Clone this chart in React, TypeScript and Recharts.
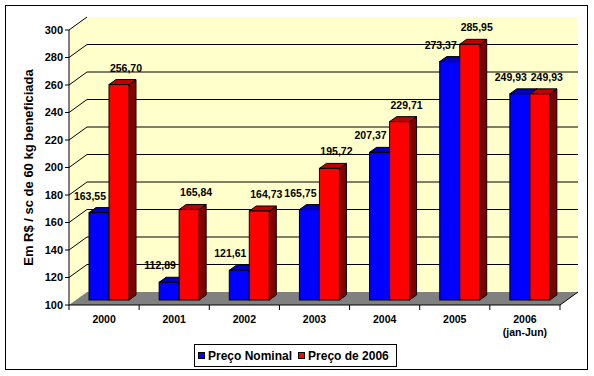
import React from 'react';
import { BarChart, Bar, XAxis, YAxis, CartesianGrid, LabelList, Legend } from 'recharts';

const categories = ['2000', '2001', '2002', '2003', '2004', '2005', '2006\n(jan-Jun)'];
const precoNominal = [163.55, 112.89, 121.61, 165.75, 207.37, 273.37, 249.93];
const preco2006 = [256.7, 165.84, 164.73, 195.72, 229.71, 285.95, 249.93];
const yTicks = [100, 120, 140, 160, 180, 200, 220, 240, 260, 280, 300];
const seriesNames = ['Preço Nominal', 'Preço de 2006'];
const yLabel = 'Em R$ / sc de 60 kg beneficiada';

const data = categories.map((c, i) => ({ cat: c, nominal: precoNominal[i], real: preco2006[i] }));

const W = 594;
const H = 376;
const MARGIN = { top: 30, right: 34, bottom: 41, left: 9 };
const Y_AXIS_W = 60;
const X_AXIS_H = 30;
const PLOT_LEFT = MARGIN.left + Y_AXIS_W;
const PLOT_TOP = MARGIN.top;
const PLOT_RIGHT = W - MARGIN.right;
const PLOT_BOTTOM = H - MARGIN.bottom - X_AXIS_H;
const DX = 18; // wall depth
const DY = 13;
const OX = 5; // bar plane offset
const OY = -5;
const BDX = 7; // bar depth
const BDY = -5;
const FONT = "'Liberation Sans', Arial, sans-serif";

const fmt = (v: number) => v.toFixed(2).replace('.', ',');

function Bar3D(props: any) {
  const { x, y, width, height, fill, topFill, sideFill } = props;
  if (width == null || height == null) return null;
  const fx = x + OX;
  const fy = y + OY;
  const top = `${fx},${fy} ${fx + BDX},${fy + BDY} ${fx + width + BDX},${fy + BDY} ${fx + width},${fy}`;
  const side = `${fx + width},${fy} ${fx + width + BDX},${fy + BDY} ${fx + width + BDX},${fy + height + BDY} ${fx + width},${fy + height}`;
  return (
    <g>
      <polygon points={side} fill={sideFill} stroke="#000" strokeWidth={1} strokeLinejoin="round" />
      <polygon points={top} fill={topFill} stroke="#000" strokeWidth={1} strokeLinejoin="round" />
      <rect x={fx} y={fy} width={width} height={height} fill={fill} stroke="#000" strokeWidth={1} />
    </g>
  );
}

function makeLabel(shift: number) {
  return (props: any) => {
    const { x, y, width, value } = props;
    return (
      <text
        x={x + OX + width / 2 + shift}
        y={y + OY - 13}
        textAnchor="middle"
        fontFamily={FONT}
        fontWeight="bold"
        fontSize={10.5}
        fill="#000"
      >
        {fmt(value)}
      </text>
    );
  };
}

function GridLine(props: any) {
  const { x1, y1, x2 } = props;
  const isBottom = Math.abs(y1 - PLOT_BOTTOM) < 1;
  const isTop = Math.abs(y1 - PLOT_TOP) < 1;
  if (isBottom) return <g />;
  return (
    <g>
      <line x1={x1} y1={y1} x2={x1 + DX} y2={y1 - DY} stroke="#000" strokeWidth={1} />
      {!isTop && <line x1={x1 + DX} y1={y1 - DY} x2={x2 + DX} y2={y1 - DY} stroke="#000" strokeWidth={1} />}
    </g>
  );
}

function XTick(props: any) {
  const { x, y, payload, index } = props;
  const bw = (PLOT_RIGHT - PLOT_LEFT) / categories.length;
  const axisY = y - 7;
  const lines = String(payload.value).split('\n');
  return (
    <g>
      <line x1={x - bw / 2} y1={axisY} x2={x - bw / 2} y2={axisY + 5} stroke="#000" />
      {index === categories.length - 1 && (
        <line x1={x + bw / 2} y1={axisY} x2={x + bw / 2} y2={axisY + 5} stroke="#000" />
      )}
      <text x={x} y={axisY + 18} textAnchor="middle" fontFamily={FONT} fontWeight="bold" fontSize={10.5} fill="#000">
        {lines.map((l, i) => (
          <tspan key={i} x={x} dy={i === 0 ? 0 : 12.5}>
            {l}
          </tspan>
        ))}
      </text>
    </g>
  );
}

function YLabel(props: any) {
  const vb = props.viewBox || { x: MARGIN.left, y: PLOT_TOP, width: Y_AXIS_W, height: PLOT_BOTTOM - PLOT_TOP };
  const cx = vb.x + 19.5;
  const cy = vb.y + vb.height / 2;
  return (
    <text
      x={cx}
      y={cy}
      transform={`rotate(-90 ${cx} ${cy})`}
      textAnchor="middle"
      dominantBaseline="central"
      fontFamily={FONT}
      fontWeight="bold"
      fontSize={13}
      fill="#000"
    >
      {yLabel}
    </text>
  );
}

function LegendBox(props: any) {
  const payload = props.payload || [];
  return (
    <div
      style={{
        boxSizing: 'border-box',
        width: 203,
        height: 23,
        border: '1px solid #000',
        background: '#fff',
        display: 'flex',
        alignItems: 'center',
        paddingLeft: 3,
        fontFamily: FONT,
        fontWeight: 'bold',
        fontSize: 12,
        color: '#000',
        whiteSpace: 'nowrap',
      }}
    >
      {payload.map((p: any, i: number) => (
        <div key={i} style={{ display: 'flex', alignItems: 'center', marginRight: 6 }}>
          <span
            style={{
              display: 'inline-block',
              boxSizing: 'border-box',
              width: 7,
              height: 7,
              background: p.color,
              border: '1px solid #000',
              marginRight: 3,
            }}
          />
          <span>{p.value}</span>
        </div>
      ))}
    </div>
  );
}

export default function App() {
  const wall = `${PLOT_LEFT},${PLOT_TOP} ${PLOT_LEFT + DX},${PLOT_TOP - DY} ${PLOT_RIGHT + DX},${PLOT_TOP - DY} ${PLOT_RIGHT + DX},${PLOT_BOTTOM - DY} ${PLOT_LEFT + DX},${PLOT_BOTTOM - DY} ${PLOT_LEFT},${PLOT_BOTTOM}`;
  const floor = `${PLOT_LEFT},${PLOT_BOTTOM} ${PLOT_LEFT + DX},${PLOT_BOTTOM - DY} ${PLOT_RIGHT + DX},${PLOT_BOTTOM - DY} ${PLOT_RIGHT},${PLOT_BOTTOM}`;
  return (
    <div style={{ position: 'absolute', left: 0, top: 0, width: W, height: H, background: '#fff' }}>
      <svg width={W} height={H} style={{ position: 'absolute', left: 0, top: 0 }}>
        <rect x={5.5} y={5.5} width={582} height={364} fill="#fff" stroke="#000" strokeWidth={1} />
        <polygon points={wall} fill="#FFFFCC" />
        <polygon points={floor} fill="#808080" />
        <line x1={PLOT_RIGHT} y1={PLOT_BOTTOM} x2={PLOT_RIGHT + DX} y2={PLOT_BOTTOM - DY} stroke="#000" />
      </svg>
      <div style={{ position: 'absolute', left: 0, top: 0 }}>
        <BarChart width={W} height={H} data={data} margin={MARGIN} barGap={0} barSize={20}>
          <CartesianGrid vertical={false} horizontal={GridLine} stroke="#000" />
          <XAxis
            dataKey="cat"
            height={X_AXIS_H}
            interval={0}
            tickLine={false}
            tickSize={5}
            tickMargin={2}
            axisLine={{ stroke: '#000' }}
            tick={<XTick />}
          />
          <YAxis
            width={Y_AXIS_W}
            domain={[100, 300]}
            ticks={yTicks}
            interval={0}
            tickSize={4}
            tickMargin={2}
            axisLine={{ stroke: '#000' }}
            tickLine={{ stroke: '#000' }}
            tick={{ fill: '#000', fontSize: 11, fontWeight: 'bold', fontFamily: FONT }}
            label={<YLabel />}
          />
          <Legend
            layout="horizontal"
            verticalAlign="middle"
            align="center"
            content={<LegendBox />}
            wrapperStyle={{ left: 194, top: 344, width: 203, height: 23 }}
          />
          <Bar
            dataKey="nominal"
            name={seriesNames[0]}
            fill="#0000FF"
            isAnimationActive={false}
            shape={(p: any) => <Bar3D {...p} topFill="#0000C0" sideFill="#000080" />}
          >
            <LabelList dataKey="nominal" content={makeLabel(-9)} />
          </Bar>
          <Bar
            dataKey="real"
            name={seriesNames[1]}
            fill="#FF0000"
            isAnimationActive={false}
            shape={(p: any) => <Bar3D {...p} topFill="#C00000" sideFill="#800000" />}
          >
            <LabelList dataKey="real" content={makeLabel(7)} />
          </Bar>
        </BarChart>
      </div>
    </div>
  );
}
